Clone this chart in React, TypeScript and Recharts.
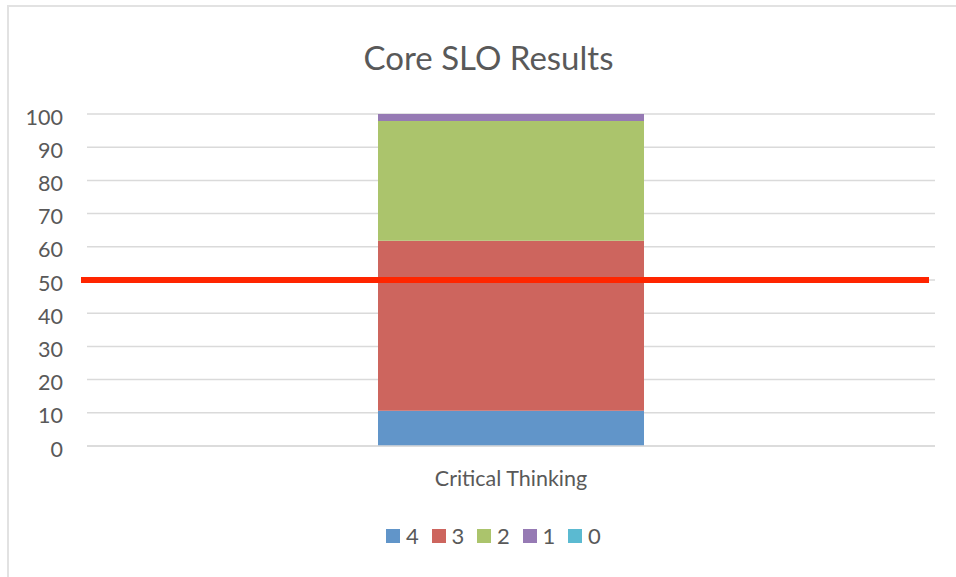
import React from "react";
import { BarChart, Bar, XAxis, YAxis, CartesianGrid, ReferenceLine } from "recharts";

const categories = ["Critical Thinking"];
const score4 = [10.6];
const score3 = [51.2];
const score2 = [36.1];
const score1 = [2.1];
const score0 = [0];
const yTicks = [0, 10, 20, 30, 40, 50, 60, 70, 80, 90, 100];
const benchmark = 50;

const seriesNames = ["4", "3", "2", "1", "0"];
const seriesColors = ["#6195C9", "#CD655E", "#ABC46C", "#967AB4", "#5BBAD1"];
const seriesValues = [score4, score3, score2, score1, score0];

const data = categories.map((c, i) => {
  const row: Record<string, any> = { name: c };
  seriesNames.forEach((s, k) => {
    row["s" + s] = seriesValues[k][i];
  });
  return row;
});

const FONT = "Lato, 'Open Sans', sans-serif";
const TEXT = "#595959";

const RedLine = (p: any) => {
  const x1 = (p.x1 ?? 0) - 6;
  const x2 = (p.x2 ?? 0) - 6;
  return <line x1={x1} y1={p.y1} x2={x2} y2={p.y2} stroke="#FF2500" strokeWidth={6} />;
};

const YTick = (p: any) => (
  <text x={p.x} y={p.y + 3} dy="0.355em" textAnchor="end" fill={TEXT} fontSize={21.5} fontFamily={FONT}>
    {p.payload.value}
  </text>
);

export default function App() {
  return (
    <div style={{ position: "absolute", left: 0, top: 0, width: 956, height: 577, background: "#fff", fontFamily: FONT, overflow: "hidden" }}>
      <div style={{ position: "absolute", left: 7, top: 5, width: 1000, height: 700, border: "2px solid #e2e2e2", boxSizing: "border-box" }} />
      <div style={{ position: "absolute", left: 0, width: 977, top: 35, textAlign: "center", fontSize: 33, color: TEXT, lineHeight: "44px" }}>
        Core SLO Results
      </div>
      <div style={{ position: "absolute", left: 0, top: 0 }}>
        <BarChart width={956} height={577} data={data} margin={{ top: 114, right: 21, left: 17, bottom: 91 }} barSize={266}>
          <CartesianGrid vertical={false} stroke="#dadada" strokeWidth={1.5} />
          <XAxis dataKey="name" axisLine={{ stroke: "#dadada", strokeWidth: 1.5 }} tickLine={false} tickSize={0} tickMargin={25} height={40}
            tick={{ fill: TEXT, fontSize: 21.5, fontFamily: FONT }} />
          <YAxis domain={[0, 100]} ticks={yTicks} interval={0} axisLine={false} tickLine={false} tickSize={0} tickMargin={24} width={70}
            tick={YTick} />
          {seriesNames.map((s, k) => (
            <Bar key={s} dataKey={"s" + s} name={s} stackId="a" fill={seriesColors[k]} isAnimationActive={false} />
          ))}
          <ReferenceLine y={benchmark} ifOverflow="visible" shape={RedLine} />
        </BarChart>
      </div>
      <div style={{ position: "absolute", left: 386, top: 524, display: "flex", alignItems: "center", fontSize: 22, color: TEXT, lineHeight: "24px" }}>
        {seriesNames.map((s, k) => (
          <div key={s} style={{ display: "flex", alignItems: "center", width: 45.5 }}>
            <span style={{ display: "inline-block", width: 14, height: 14, background: seriesColors[k], marginRight: 6 }} />
            <span>{s}</span>
          </div>
        ))}
      </div>
    </div>
  );
}
